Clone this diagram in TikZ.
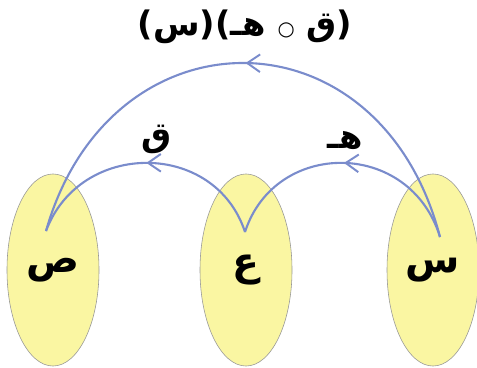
\documentclass[tikz,border=0pt]{standalone}
\usepackage{fontspec}
\newfontfamily\arabicfont[Script=Arabic]{DejaVu Sans}
\TeXXeTstate=1
\definecolor{blue1}{RGB}{122, 140, 204}
\definecolor{yellow1}{RGB}{250, 246, 162}
\definecolor{gray1}{RGB}{150, 150, 150}
\usetikzlibrary{shapes.geometric, arrows.meta, positioning, calc, decorations.markings}

\begin{document}
\begin{tikzpicture}[x=0.025cm, y=-0.025cm,
  setbox/.style={draw=gray1, fill=yellow1, ellipse, minimum width=2.3cm, minimum height=4.8cm, inner sep=0pt, font=\arabicfont\bfseries\fontsize{28}{30}\selectfont},
  maparrow/.style={draw=blue1, line width=1.5pt, postaction={decorate},
    decoration={markings, mark=at position 0.5 with {\arrow{Straight Barb[length=3.2mm, width=4.4mm, line width=1.4pt]}}}},
  maplabel/.style={font=\arabicfont\bfseries\fontsize{24}{28}\selectfont, inner sep=0pt}]
  \useasboundingbox (0,0) rectangle (477,367);

  % the three sets
  \node[setbox] (sad) at (53,270) {ص};
  \node[setbox] (ain) at (246,270) {ع};
  \node[setbox] (sin) at (433,270) {س};

  % where the maps start and end
  \coordinate (sadP) at (46,231);
  \coordinate (ainP) at (245,232);
  \coordinate (sinP) at (440,237);

  % the maps
  \draw[maparrow] (sinP) .. controls (410,139) and (275,139) .. (ainP);
  \draw[maparrow] (ainP) .. controls (215,140) and (80,140) .. (sadP);
  \draw[maparrow] (sinP) .. controls (380,6) and (110,6) .. (sadP);

  \node[maplabel] (hLabel) at (345,141) {هـ};
  \node[maplabel] (qLabel) at (157,139) {ق};
  \node[maplabel, font=\arabicfont\bfseries\fontsize{24}{28}\selectfont] (compLabel) at (245,27)
    {\beginR(ق {\mdseries\fontsize{14}{14}\selectfont ○} هـ)(س)\endR};
\end{tikzpicture}
\end{document}
